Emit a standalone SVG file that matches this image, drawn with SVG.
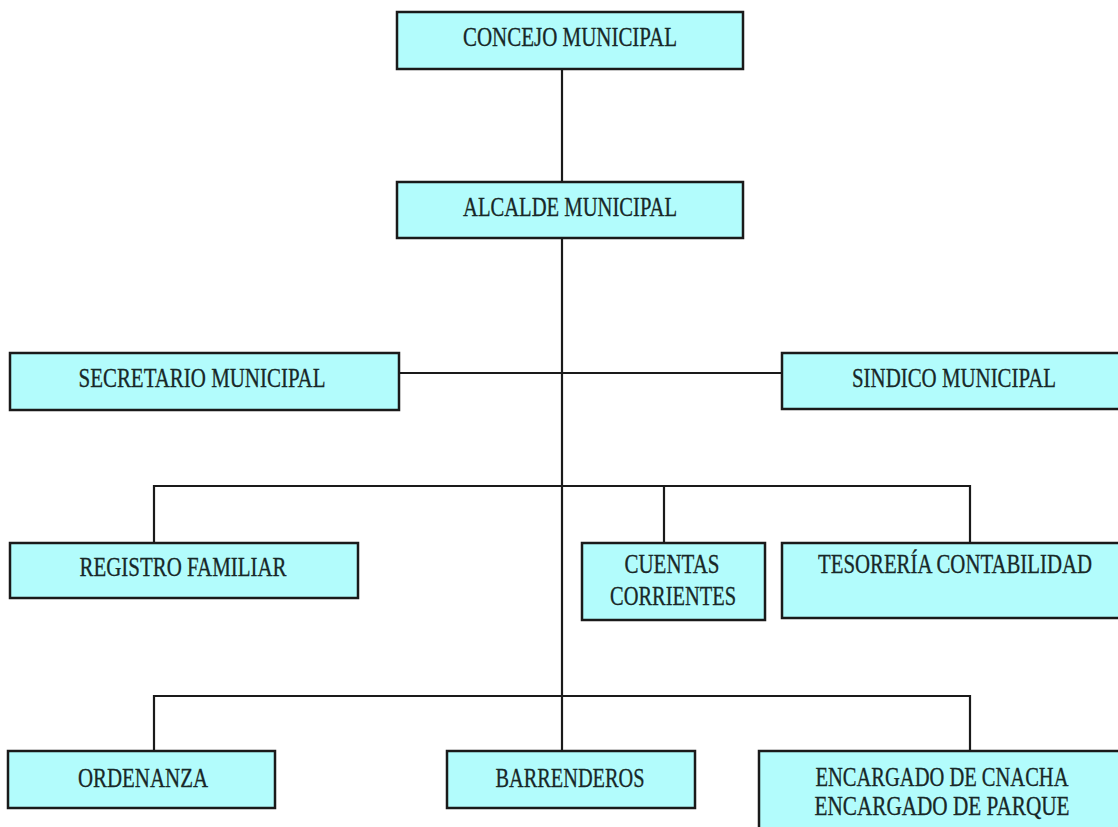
<svg xmlns="http://www.w3.org/2000/svg" width="1118" height="827" viewBox="0 0 1118 827">
<style>
.box{fill:#b2fcfc;stroke:#1a1a1a;stroke-width:2.5}
.fill{fill:#b2fcfc;stroke:none}
.edge{fill:none;stroke:#1a1a1a;stroke-width:2.5}
.lbl{font-family:"Liberation Serif","Times New Roman",serif;font-size:27px;fill:#182828;stroke:#182828;stroke-width:0.3;text-anchor:middle}
.con{fill:none;stroke:#1a1a1a;stroke-width:2.2}
</style>
<rect width="1118" height="827" fill="#ffffff"/>
<g id="connectors">
<path class="con" d="M562,69 V182"/>
<path class="con" d="M562,238 V751"/>
<path class="con" d="M399,373 H782"/>
<path class="con" d="M154,543 V486 H970 V543 M664,486 V543"/>
<path class="con" d="M154,751 V696 H970 V751"/>
</g>
<g id="concejo"><rect class="box" x="397" y="12" width="346" height="57"/><text class="lbl" x="570" y="46" textLength="214" lengthAdjust="spacingAndGlyphs">CONCEJO MUNICIPAL</text></g>
<g id="alcalde"><rect class="box" x="397" y="182" width="346" height="56"/><text class="lbl" x="570" y="216" textLength="214" lengthAdjust="spacingAndGlyphs">ALCALDE MUNICIPAL</text></g>
<g id="secretario"><rect class="box" x="10" y="353" width="389" height="57"/><text class="lbl" x="202" y="387" textLength="247" lengthAdjust="spacingAndGlyphs">SECRETARIO MUNICIPAL</text></g>
<g id="sindico"><rect class="fill" x="782" y="353" width="336" height="56"/><path class="edge" d="M1118,353 H782 V409 H1118"/><text class="lbl" x="954" y="387" textLength="204" lengthAdjust="spacingAndGlyphs">SINDICO MUNICIPAL</text></g>
<g id="registro"><rect class="box" x="10" y="543" width="348" height="55"/><text class="lbl" x="183" y="576" textLength="207" lengthAdjust="spacingAndGlyphs">REGISTRO FAMILIAR</text></g>
<g id="cuentas"><rect class="box" x="582" y="543" width="183" height="77"/><text class="lbl" x="672" y="573" textLength="95" lengthAdjust="spacingAndGlyphs">CUENTAS</text><text class="lbl" x="673" y="605" textLength="126" lengthAdjust="spacingAndGlyphs">CORRIENTES</text></g>
<g id="tesoreria"><rect class="fill" x="782" y="543" width="336" height="75"/><path class="edge" d="M1118,543 H782 V618 H1118"/><text class="lbl" x="955" y="573" textLength="274" lengthAdjust="spacingAndGlyphs">TESORERÍA CONTABILIDAD</text></g>
<g id="ordenanza"><rect class="box" x="8" y="751" width="267" height="57"/><text class="lbl" x="143" y="787" textLength="130" lengthAdjust="spacingAndGlyphs">ORDENANZA</text></g>
<g id="barrenderos"><rect class="box" x="447" y="751" width="248" height="57"/><text class="lbl" x="570" y="787" textLength="149" lengthAdjust="spacingAndGlyphs">BARRENDEROS</text></g>
<g id="encargado"><rect class="fill" x="759" y="751" width="359" height="76"/><path class="edge" d="M1118,751 H759 V827"/><text class="lbl" x="942" y="786" textLength="253" lengthAdjust="spacingAndGlyphs">ENCARGADO DE CNACHA</text><text class="lbl" x="942" y="815" textLength="255" lengthAdjust="spacingAndGlyphs">ENCARGADO DE PARQUE</text></g>
</svg>
